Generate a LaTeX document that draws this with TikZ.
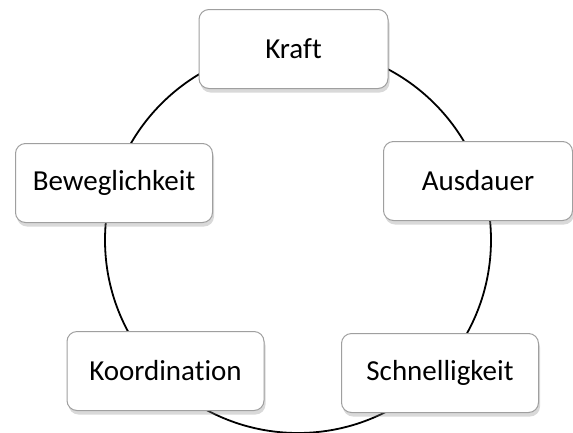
\documentclass[tikz,border=0pt]{standalone}
\usepackage{fontspec}
\setmainfont{Carlito}[Ligatures=NoCommon]
\usepackage{tikz}
\usetikzlibrary{shadows}

\begin{document}
\begin{tikzpicture}[
    x=1pt, y=-1pt,
    phase/.style={rectangle, rounded corners=10pt, draw=gray!75, line width=1pt, fill=white,
        minimum width=197pt, minimum height=79pt, align=center,
        font=\fontsize{29}{33}\selectfont,
        drop shadow={shadow xshift=1.5pt, shadow yshift=-4pt, opacity=0.3, fill=gray}},
    ring/.style={line width=1.8pt, black}
]
\useasboundingbox (0,0) rectangle (573,432);

% Ring
\coordinate (mid) at (298,240);
\draw[ring] (mid) circle[radius=193pt];

% Phases
\node[phase, minimum width=189pt] (kraft) at (293.5,49) {Kraft};
\node[phase, minimum width=189pt] (ausdauer) at (478,181) {Ausdauer};
\node[phase] (beweglichkeit) at (114,183) {Beweglichkeit};
\node[phase] (koordination) at (165.5,371) {Koordination};
\node[phase] (schnelligkeit) at (440,373) {Schnelligkeit};

\end{tikzpicture}
\end{document}
